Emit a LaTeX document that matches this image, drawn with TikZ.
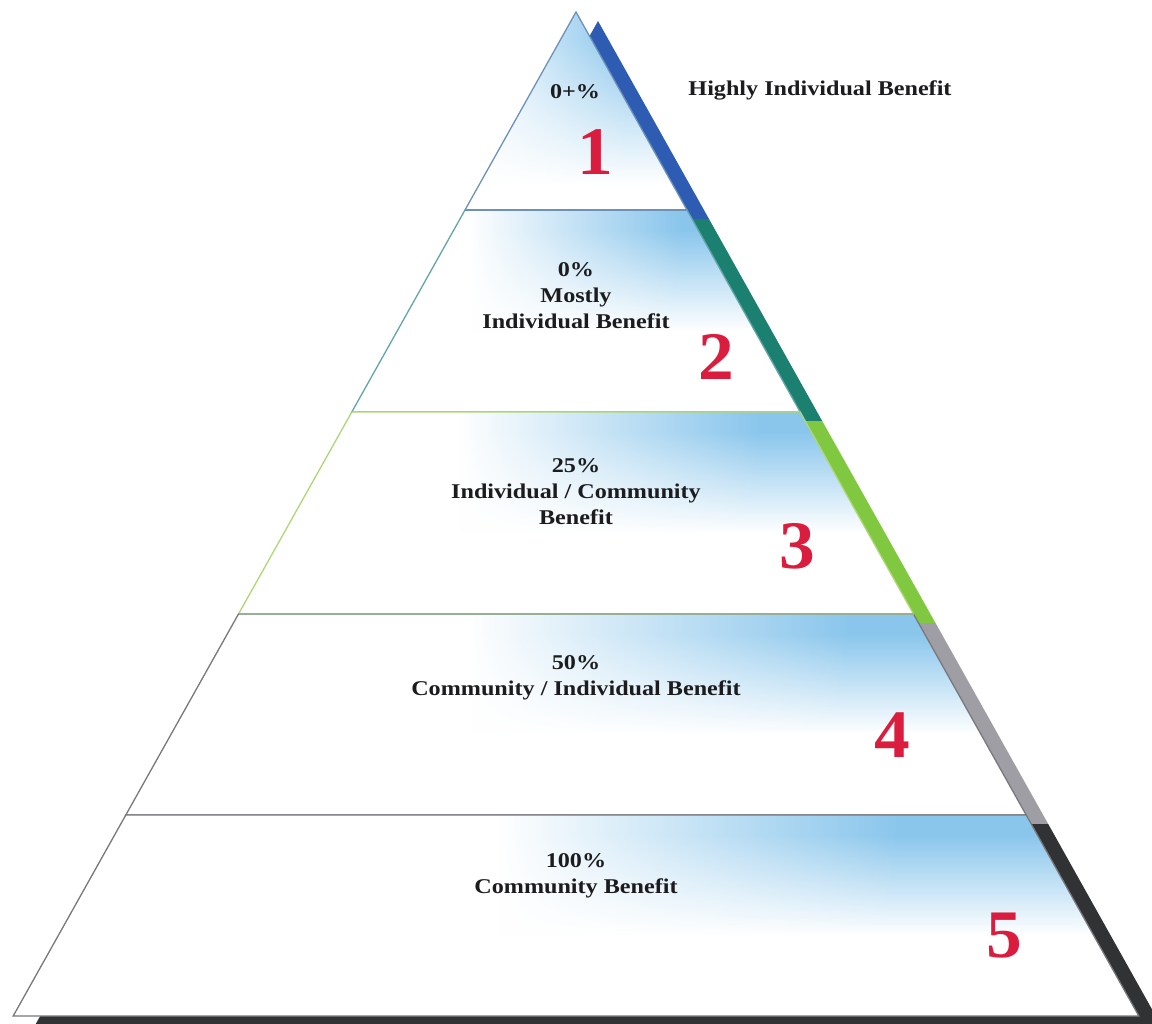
\documentclass[tikz,border=0pt]{standalone}
\usepackage{fontspec}
\setmainfont{Liberation Serif}
\usetikzlibrary{fadings}
\definecolor{sky}{RGB}{138,198,236}
\definecolor{s1}{RGB}{45,92,178}
\definecolor{s2}{RGB}{28,128,112}
\definecolor{s3}{RGB}{128,200,64}
\definecolor{s4}{RGB}{158,158,164}
\definecolor{s5}{RGB}{48,50,52}
\definecolor{l1}{RGB}{110,145,185}
\definecolor{l2}{RGB}{100,165,170}
\definecolor{l3}{RGB}{175,215,120}
\definecolor{l4}{RGB}{150,175,150}
\definecolor{l5}{RGB}{120,120,125}
\definecolor{numred}{RGB}{218,28,62}
\definecolor{ink}{RGB}{28,28,30}
\pgfdeclareverticalshading{bandshade}{100bp}{color(0bp)=(white); color(25bp)=(white); color(45bp)=(white); color(70bp)=(sky); color(75bp)=(sky); color(100bp)=(sky)}
\tikzfading[name=fadeR, left color=transparent!0, right color=transparent!100]
\begin{document}
\begin{tikzpicture}[x=1pt,y=-1pt,
  lab/.style={font=\fontsize{21}{26}\selectfont\bfseries, text=ink, align=center, xscale=1.15, inner sep=0pt},
  num/.style={font=\fontsize{68}{68}\selectfont\bfseries, text=numred, xscale=1.05, inner sep=0pt},
  edge/.style={line width=1.3pt, line join=miter},
  vfill/.style={shading=bandshade},
  hfade/.style={white, path fading=fadeR},
  sh/.style={shift={(22,9)}}]
\useasboundingbox (0,0) rectangle (1152,1024);
\fill[white] (0,0) rectangle (1152,1024);
% corner coordinates
\coordinate (A) at (576,12);
\coordinate (L1) at (465,210);   \coordinate (R1) at (687,210);
\coordinate (L2) at (351.8,412); \coordinate (R2) at (800.2,412);
\coordinate (L3) at (238.5,614); \coordinate (R3) at (913.5,614);
\coordinate (L4) at (125.8,815); \coordinate (R4) at (1026.2,815);
\coordinate (L5) at (13.2,1016); \coordinate (R5) at (1138.8,1016);
% shadow (3D side strip)
\fill[s1] ([sh]A) -- ([sh]R1) -- ([sh]L1) -- cycle;
\fill[s2] ([sh]L1) -- ([sh]R1) -- ([sh]R2) -- ([sh]L2) -- cycle;
\fill[s3] ([sh]L2) -- ([sh]R2) -- ([sh]R3) -- ([sh]L3) -- cycle;
\fill[s4] ([sh]L3) -- ([sh]R3) -- ([sh]R4) -- ([sh]L4) -- cycle;
\fill[s5] ([sh]L4) -- ([sh]R4) -- ([sh]R5) -- ([sh]L5) -- cycle;
% band 1
\begin{scope}
\clip (A) -- (R1) -- (L1) -- cycle;
\shade[vfill] (460,12) rectangle (690,300);
\fill[hfade] (460,12) rectangle (630,210);
\end{scope}
\draw[l1, edge] (A) -- (R1) -- (L1) -- cycle;
% band 2
\begin{scope}
\clip (L1) -- (R1) -- (R2) -- (L2) -- cycle;
\shade[vfill] (350,210) rectangle (802,412);
\fill[white] (350,210) rectangle (470,412);
\fill[hfade] (469,210) rectangle (680,412);
\end{scope}
\draw[l2, edge] (L1) -- (R1) -- (R2) -- (L2) -- cycle;
\draw[l1, edge] (L1) -- (R1);
% band 3
\begin{scope}
\clip (L2) -- (R2) -- (R3) -- (L3) -- cycle;
\shade[vfill] (236,412) rectangle (916,614);
\fill[white] (236,412) rectangle (460,614);
\fill[hfade] (459,412) rectangle (760,614);
\end{scope}
\draw[l3, edge] (L2) -- (R2) -- (R3) -- (L3) -- cycle;
% band 4
\begin{scope}
\clip (L3) -- (R3) -- (R4) -- (L4) -- cycle;
\shade[vfill] (124,614) rectangle (1028,815);
\fill[white] (124,614) rectangle (470,815);
\fill[hfade] (469,614) rectangle (850,815);
\end{scope}
\draw[l5, edge] (L3) -- (R3) -- (R4) -- (L4) -- cycle;
\draw[l4, edge] (L3) -- (R3);
% band 5
\begin{scope}
\clip (L4) -- (R4) -- (R5) -- (L5) -- cycle;
\shade[vfill] (12,815) rectangle (1140,1016);
\fill[white] (12,815) rectangle (500,1016);
\fill[hfade] (499,815) rectangle (900,1016);
\end{scope}
\draw[l5, edge] (L4) -- (R4) -- (R5) -- (L5) -- cycle;
% texts
\node[lab] (t1) at (575,92) {0+\%};
\node[lab] (side) at (820,90) {Highly Individual Benefit};
\node[lab] (t2) at (576,296) {0\%\\Mostly\\Individual Benefit};
\node[lab] (t3) at (576,492) {25\%\\Individual / Community\\Benefit};
\node[lab] (t4) at (576,678) {50\%\\Community / Individual Benefit};
\node[lab] (t5) at (576,876) {100\%\\Community Benefit};
% numbers
\node[num] (n1) at (595,152) {1};
\node[num] (n2) at (716,357) {2};
\node[num] (n3) at (797,546) {3};
\node[num] (n4) at (892,735) {4};
\node[num] (n5) at (1004,936) {5};
\end{tikzpicture}
\end{document}
